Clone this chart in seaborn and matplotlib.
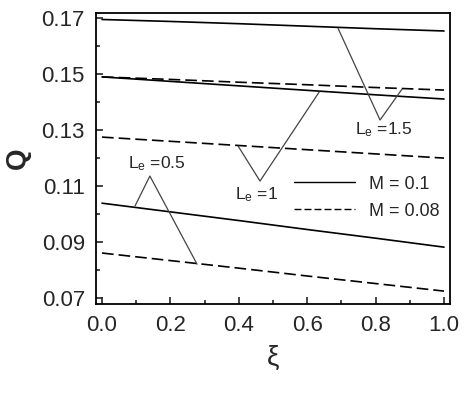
import matplotlib
matplotlib.use("Agg")
import matplotlib.pyplot as plt
import seaborn as sns
import pandas as pd
from matplotlib.ticker import MultipleLocator
from matplotlib.lines import Line2D

# ---- data ----
xi = [0.0, 0.2, 0.4, 0.6, 0.8, 1.0]
q_m01_le15 = [0.1695, 0.1688, 0.1680, 0.1671, 0.1662, 0.1654]
q_m008_le15 = [0.1490, 0.1481, 0.1471, 0.1462, 0.1452, 0.1443]
q_m01_le1 = [0.1490, 0.1474, 0.1458, 0.1442, 0.1426, 0.1411]
q_m008_le1 = [0.1275, 0.1260, 0.1245, 0.1230, 0.1215, 0.1200]
q_m01_le05 = [0.1039, 0.1008, 0.0977, 0.0945, 0.0914, 0.0882]
q_m008_le05 = [0.0861, 0.0834, 0.0807, 0.0779, 0.0752, 0.0725]

# callout polylines (x, y) for labels
call_le05_x = [0.0965, 0.140, 0.278]
call_le05_y = [0.1029, 0.1136, 0.0821]
call_le1_x = [0.398, 0.462, 0.635]
call_le1_y = [0.1243, 0.1118, 0.1436]
call_le15_x = [0.690, 0.813, 0.877]
call_le15_y = [0.1664, 0.1336, 0.1446]

labels_text = ["L$_{e}$ =0.5", "L$_{e}$ =1", "L$_{e}$ =1.5"]
labels_x = [0.075, 0.39, 0.74]
labels_y = [0.1180, 0.1070, 0.1300]

legend_labels = ["M = 0.1", "M = 0.08"]

sns.set_theme(style="ticks")
plt.rcParams['font.family'] = ['Liberation Sans', 'DejaVu Sans']
plt.rcParams['mathtext.default'] = 'regular'

rows = []
for le, qs, qd in [("0.5", q_m01_le05, q_m008_le05), ("1", q_m01_le1, q_m008_le1), ("1.5", q_m01_le15, q_m008_le15)]:
    for x, a, b in zip(xi, qs, qd):
        rows.append({"xi": x, "Q": a, "M": "0.1", "Le": le})
        rows.append({"xi": x, "Q": b, "M": "0.08", "Le": le})
df = pd.DataFrame(rows)

fig = plt.figure(figsize=(4.67, 3.98), dpi=100)
ax = fig.add_axes([0.2056, 0.2362, 0.758, 0.731])

for (m, le), g in df.groupby(["M", "Le"]):
    ls = "-" if m == "0.1" else (0, (7, 3))
    sns.lineplot(data=g, x="xi", y="Q", ax=ax, color="black", linewidth=1.2,
                 linestyle=ls, legend=False, sort=True)

for cx, cy in [(call_le05_x, call_le05_y), (call_le1_x, call_le1_y), (call_le15_x, call_le15_y)]:
    ax.plot(cx, cy, color="#444444", linewidth=0.9)

for t, x, y in zip(labels_text, labels_x, labels_y):
    ax.text(x, y, t, fontsize=12.5, ha="left", va="center")

handles = [Line2D([], [], color="black", lw=1.0, linestyle="-"),
           Line2D([], [], color="black", lw=1.0, linestyle=(0, (5, 2.2)))]
ax.legend(handles, legend_labels, frameon=False, fontsize=13,
          loc="upper left", bbox_to_anchor=(0.512, 0.497),
          handlelength=3.4, handletextpad=0.8, labelspacing=0.55)

ax.set_xlim(-0.0175, 1.0175)
ax.set_ylim(0.0679, 0.1718)
ax.set_xticks([0.0, 0.2, 0.4, 0.6, 0.8, 1.0])
ax.set_xticklabels(["0.0", "0.2", "0.4", "0.6", "0.8", "1.0"])
ax.set_yticks([0.07, 0.09, 0.11, 0.13, 0.15, 0.17])
ax.set_yticklabels(["0.07", "0.09", "0.11", "0.13", "0.15", "0.17"])
ax.xaxis.set_minor_locator(MultipleLocator(0.1))
ax.yaxis.set_minor_locator(MultipleLocator(0.01))
ax.tick_params(which="both", direction="in", top=False, right=False, width=1.2)
ax.tick_params(which="major", length=5, labelsize=16, pad=8)
ax.tick_params(which="minor", length=3)
for s in ax.spines.values():
    s.set_linewidth(1.3)
    s.set_color("black")
    s.set_visible(True)

ax.set_xlabel("ξ", fontsize=20, labelpad=6)
ax.set_ylabel("Q", fontsize=20, fontweight="bold", labelpad=8)

fig.savefig("out.png", dpi=100)
